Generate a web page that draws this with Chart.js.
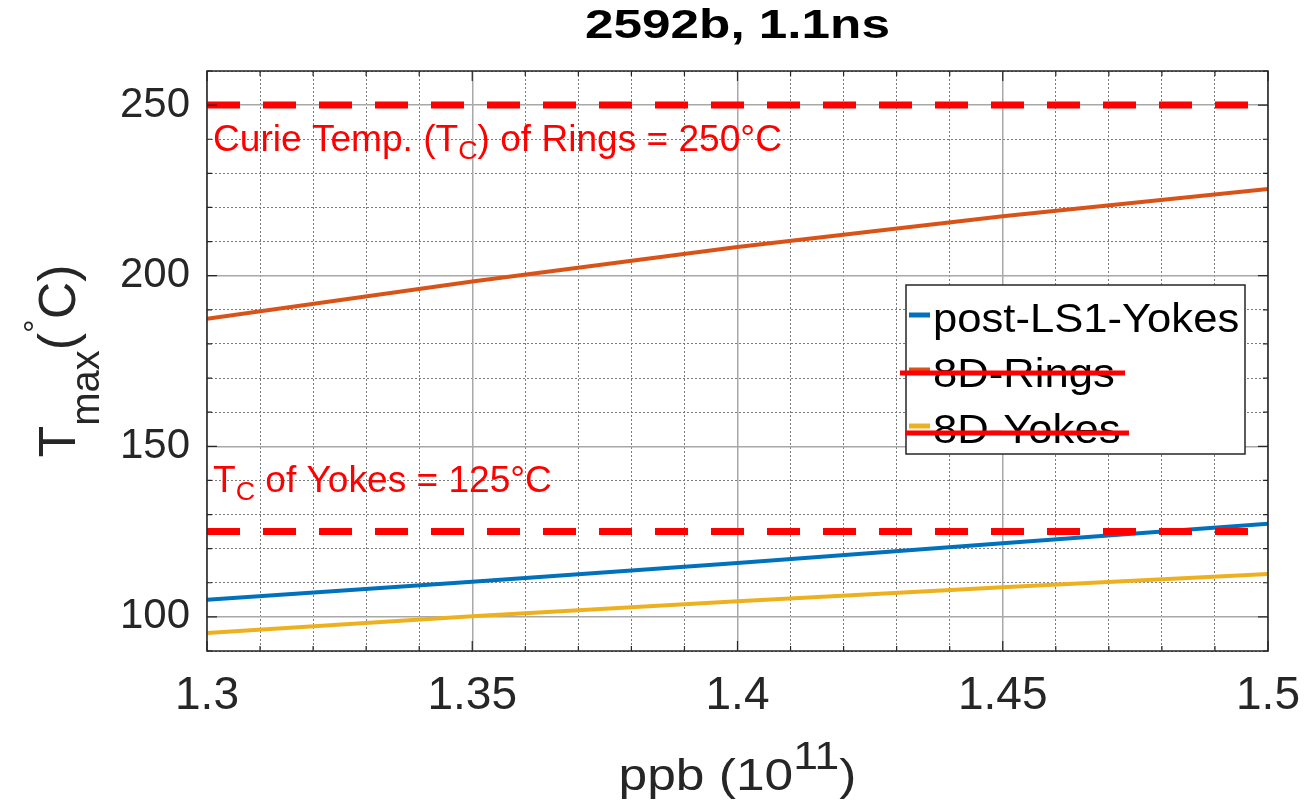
<!DOCTYPE html>
<html>
<head>
<meta charset="utf-8">
<script src="https://cdn.jsdelivr.net/npm/chart.js@4/dist/chart.umd.min.js"></script>
<style>
  html, body { margin: 0; padding: 0; background: #ffffff; }
  #wrap { width: 1304px; height: 805px; }
</style>
</head>
<body>
<div id="wrap"><canvas id="c" width="1304" height="805"></canvas></div>
<script>
// Bunch intensity (10^11 ppb) and peak temperatures (°C)
const ppb = [1.30, 1.35, 1.40, 1.45, 1.50];
const postLS1Yokes = [105.0, 110.3, 115.8, 121.6, 127.3];
const rings8D = [187.4, 198.3, 208.4, 217.4, 225.4];
const yokes8D = [95.3, 100.2, 104.6, 108.7, 112.6];
const seriesNames = ['post-LS1-Yokes', '8D-Rings', '8D-Yokes'];

// Curie temperatures drawn as horizontal limits
const curieRings = 250;
const curieYokes = 125;

// Axis ranges and ticks
const xRange = [1.3, 1.5];
const yRange = [90, 260];
const xMajorTicks = [1.3, 1.35, 1.4, 1.45, 1.5];
const xTickLabels = ['1.3', '1.35', '1.4', '1.45', '1.5'];
const xMinorTicks = [1.30, 1.31, 1.32, 1.33, 1.34, 1.35, 1.36, 1.37, 1.38, 1.39, 1.40,
                     1.41, 1.42, 1.43, 1.44, 1.45, 1.46, 1.47, 1.48, 1.49, 1.50];
const yMajorTicks = [100, 150, 200, 250];
const yTickLabels = ['100', '150', '200', '250'];
const yMinorTicks = [90, 100, 110, 120, 130, 140, 150, 160, 170, 180, 190, 200,
                     210, 220, 230, 240, 250, 260];

const FAMILY = "'Liberation Sans', Arial, Helvetica, sans-serif";
const AXIS_COLOR = '#262626';
const colors = ['#0072BD', '#D95319', '#EDB120'];

const isMajorX = v => xMajorTicks.some(m => Math.abs(m - v) < 1e-6);
const isMajorY = v => yMajorTicks.some(m => Math.abs(m - v) < 1e-6);

function pts(values) { return ppb.map((x, i) => ({ x: x, y: values[i] })); }
function hline(v) { return [{ x: xRange[0], y: v }, { x: xRange[1], y: v }]; }

// Keeps the plot box fixed: no extra room reserved for overhanging tick labels
function noOverhang(s) {
  s.paddingLeft = 0; s.paddingRight = 0; s.paddingTop = 0; s.paddingBottom = 0;
}

// Draws a run of text pieces (with sub/superscripts) on one baseline
function drawRich(ctx, segs, x, y, opt) {
  const sx = opt.sx || 1;
  let total = 0;
  const widths = segs.map(s => {
    ctx.font = (s.weight || 'normal') + ' ' + s.size + 'px ' + FAMILY;
    const w = ctx.measureText(s.t).width;
    total += w;
    return w;
  });
  let cx = opt.align === 'center' ? -total / 2 : 0;
  ctx.save();
  ctx.translate(x, y);
  if (opt.rotate) ctx.rotate(opt.rotate);
  ctx.scale(sx, 1);
  ctx.fillStyle = opt.color;
  ctx.textBaseline = 'alphabetic';
  ctx.textAlign = 'left';
  segs.forEach((s, i) => {
    ctx.font = (s.weight || 'normal') + ' ' + s.size + 'px ' + FAMILY;
    ctx.fillText(s.t, cx, s.dy || 0);
    cx += widths[i];
  });
  ctx.restore();
}

// Box around the axes, inward tick marks, labels, annotations and legend
const decorations = {
  id: 'decorations',
  afterDatasetsDraw(chart) {
    const ctx = chart.ctx;
    const ca = chart.chartArea;
    const xs = chart.scales.x, ys = chart.scales.y;

    // axes box
    ctx.save();
    ctx.strokeStyle = AXIS_COLOR;
    ctx.lineWidth = 1.5;
    ctx.strokeRect(ca.left, ca.top, ca.right - ca.left, ca.bottom - ca.top);

    // inward tick marks on all four sides
    ctx.lineWidth = 1.2;
    ctx.beginPath();
    xMinorTicks.forEach(v => {
      const px = xs.getPixelForValue(v);
      const len = isMajorX(v) ? 10 : 5;
      ctx.moveTo(px, ca.bottom); ctx.lineTo(px, ca.bottom - len);
      ctx.moveTo(px, ca.top); ctx.lineTo(px, ca.top + len);
    });
    yMinorTicks.forEach(v => {
      const py = ys.getPixelForValue(v);
      const len = isMajorY(v) ? 10 : 5;
      ctx.moveTo(ca.left, py); ctx.lineTo(ca.left + len, py);
      ctx.moveTo(ca.right, py); ctx.lineTo(ca.right - len, py);
    });
    ctx.stroke();
    ctx.restore();

    const cx = (ca.left + ca.right) / 2;

    // title
    drawRich(ctx, [{ t: '2592b, 1.1ns', size: 41, weight: 'bold' }],
      cx, 38, { align: 'center', color: '#000000', sx: 1.25 });

    // x axis title
    drawRich(ctx, [
      { t: 'ppb (10', size: 44 },
      { t: '11', size: 38, dy: -21 },
      { t: ')', size: 44 }
    ], cx, 790, { align: 'center', color: AXIS_COLOR, sx: 1.17 });

    // y axis title
    drawRich(ctx, [
      { t: 'T', size: 52 },
      { t: 'max', size: 40, dy: 24 },
      { t: '(', size: 52 },
      { t: '\u00B0', size: 34, dy: -28 },
      { t: 'C', size: 52 },
      { t: ')', size: 52 }
    ], 75, (ca.top + ca.bottom) / 2, { align: 'center', color: AXIS_COLOR, rotate: -Math.PI / 2 });

    // Curie temperature notes
    const yR = ys.getPixelForValue(curieRings);
    drawRich(ctx, [
      { t: 'Curie Temp. (T', size: 36 },
      { t: 'C', size: 26, dy: 8 },
      { t: ') of Rings = ' + curieRings + '\u00B0C', size: 36 }
    ], ca.left + 6, yR + 46, { color: '#FF0000', sx: 1.03 });

    const yY = ys.getPixelForValue(curieYokes);
    drawRich(ctx, [
      { t: 'T', size: 36 },
      { t: 'C', size: 26, dy: 8 },
      { t: ' of Yokes = ' + curieYokes + '\u00B0C', size: 36 }
    ], ca.left + 6, yY - 40, { color: '#FF0000', sx: 1.03 });

    // legend
    const bx = ca.right - 362, by = ca.top + 214, bw = 339, bh = 169;
    ctx.save();
    ctx.fillStyle = '#ffffff';
    ctx.fillRect(bx, by, bw, bh);
    ctx.strokeStyle = AXIS_COLOR;
    ctx.lineWidth = 1.5;
    ctx.strokeRect(bx, by, bw, bh);
    const rows = [30, 85, 141];
    seriesNames.forEach((name, i) => {
      const ry = by + rows[i];
      ctx.strokeStyle = colors[i];
      ctx.lineWidth = 5;
      ctx.beginPath();
      ctx.moveTo(bx + 3, ry); ctx.lineTo(bx + 24, ry);
      ctx.stroke();
      drawRich(ctx, [{ t: name, size: 40 }], bx + 27, ry + 17, { color: '#000000', sx: 1.09 });
    });
    // red strokes across the two 8D entries
    ctx.strokeStyle = '#FF0000';
    ctx.lineWidth = 5;
    ctx.beginPath();
    ctx.moveTo(bx - 6, by + rows[1] + 3); ctx.lineTo(bx + 219, by + rows[1] + 3);
    ctx.moveTo(bx - 1, by + rows[2] + 7); ctx.lineTo(bx + 223, by + rows[2] + 7);
    ctx.stroke();
    ctx.restore();
  }
};

const tickFontX = { family: FAMILY, size: 46 };
const tickFontY = { family: FAMILY, size: 42 };

new Chart(document.getElementById('c'), {
  type: 'line',
  data: {
    datasets: [
      { label: seriesNames[0], data: pts(postLS1Yokes), borderColor: colors[0], borderWidth: 4, pointRadius: 0, order: 2 },
      { label: seriesNames[1], data: pts(rings8D), borderColor: colors[1], borderWidth: 4, pointRadius: 0, order: 2 },
      { label: seriesNames[2], data: pts(yokes8D), borderColor: colors[2], borderWidth: 4, pointRadius: 0, order: 2 },
      { label: 'Tc rings', data: hline(curieRings), borderColor: '#FF0000', borderWidth: 7, borderDash: [33, 23], borderCapStyle: 'butt', pointRadius: 0, order: 0 },
      { label: 'Tc yokes', data: hline(curieYokes), borderColor: '#FF0000', borderWidth: 7, borderDash: [33, 23], borderCapStyle: 'butt', pointRadius: 0, order: 0 }
    ]
  },
  options: {
    responsive: false,
    animation: false,
    events: [],
    layout: { padding: { left: 0, right: 36, top: 71, bottom: 0 } },
    plugins: {
      legend: { display: false },
      tooltip: { enabled: false },
      title: { display: false }
    },
    scales: {
      xm: {
        type: 'linear', position: 'bottom', min: xRange[0], max: xRange[1],
        afterBuildTicks: s => { s.ticks = xMinorTicks.map(v => ({ value: v })); },
        ticks: { display: false },
        grid: {
          drawTicks: false, lineWidth: 1,
          color: c => (c.tick && isMajorX(c.tick.value)) ? 'rgba(0,0,0,0)' : '#7a7a7a'
        },
        border: { display: false, dash: [2, 2] },
        afterFit: s => { s.height = 0; noOverhang(s); }
      },
      ym: {
        type: 'linear', position: 'left', min: yRange[0], max: yRange[1],
        afterBuildTicks: s => { s.ticks = yMinorTicks.map(v => ({ value: v })); },
        ticks: { display: false },
        grid: {
          drawTicks: false, lineWidth: 1,
          color: c => (c.tick && isMajorY(c.tick.value)) ? 'rgba(0,0,0,0)' : '#7a7a7a'
        },
        border: { display: false, dash: [2, 2] },
        afterFit: s => { s.width = 0; noOverhang(s); }
      },
      x: {
        type: 'linear', position: 'bottom', min: xRange[0], max: xRange[1],
        afterBuildTicks: s => { s.ticks = xMajorTicks.map(v => ({ value: v })); },
        ticks: {
          autoSkip: false, maxRotation: 0, padding: 18,
          font: tickFontX, color: AXIS_COLOR,
          callback: (v, i) => xTickLabels[i]
        },
        grid: { drawTicks: false, lineWidth: 1.5, color: '#a8a8a8' },
        border: { display: false },
        afterFit: s => { s.height = 154; noOverhang(s); }
      },
      y: {
        type: 'linear', position: 'left', min: yRange[0], max: yRange[1],
        afterBuildTicks: s => { s.ticks = yMajorTicks.map(v => ({ value: v })); },
        ticks: {
          autoSkip: false, padding: 17,
          font: tickFontY, color: AXIS_COLOR,
          callback: (v, i) => yTickLabels[i]
        },
        grid: { drawTicks: false, lineWidth: 1.5, color: '#a8a8a8' },
        border: { display: false },
        afterFit: s => { s.width = 207; noOverhang(s); }
      }
    }
  },
  plugins: [decorations]
});
</script>
</body>
</html>
